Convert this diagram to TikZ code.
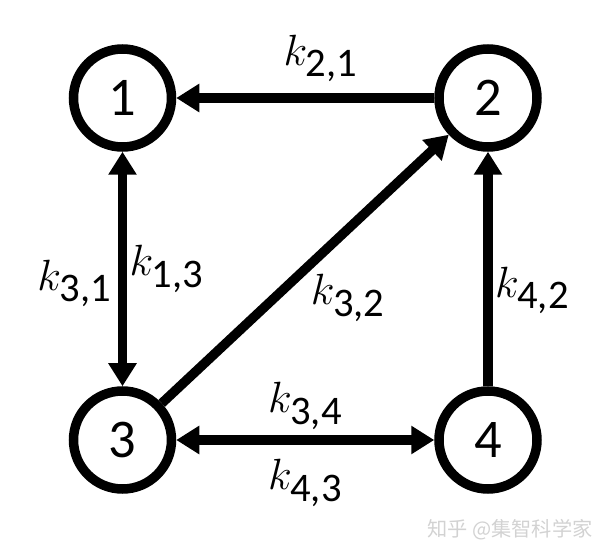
\documentclass[tikz,border=0pt]{standalone}
\usepackage{fontspec}
\usepackage{amsmath}
\setmainfont{Carlito}
\newfontfamily\cjkfont{Noto Sans CJK SC}
\usetikzlibrary{arrows.meta, positioning}
\newcommand{\rate}[1]{$k_{\text{#1}}$}

\begin{document}
\begin{tikzpicture}[->, >={Triangle[length=4.6mm, width=5.4mm]}, line width=0.19cm, node distance=5.16cm]
\tikzstyle{every node}=[font=\fontsize{33}{36}\selectfont]
\tikzstyle{vertex}=[circle, draw, minimum size=1.96cm, inner sep=0pt, font=\fontsize{31}{34}\selectfont]
\useasboundingbox (0,0) rectangle (12,-11.12);
\node[vertex](n1) at (2.45,-1.96) {1};
\node[vertex](n2)[right = of n1] {2};
\node[vertex](n3)[below = 4.69cm of n1] {3};
\node[vertex](n4)[right = of n3] {4};
\draw[->] (n2) -- node[above=3pt, pos=0.44] {\rate{2,1}} (n1);
\draw[<->] (n3) -- node[left, pos=0.44] {\rate{3,1}} node[right=-2pt, pos=0.5] {\rate{1,3}} (n1);
\draw[->] (n3) -- node[below right=-4pt, pos=0.5] {\rate{3,2}} (n2);
\draw[->] (n4) -- node[right=-2pt, pos=0.41] {\rate{4,2}} (n2);
\draw[<->] (n3) -- node[above=0pt] {\rate{3,4}} node[below=5pt] {\rate{4,3}} (n4);
\node[font=\cjkfont\fontsize{11.5}{14}\selectfont, text=gray!35](mark) at (10.2,-10.6) {知乎 @集智科学家};

\end{tikzpicture}
\end{document}
